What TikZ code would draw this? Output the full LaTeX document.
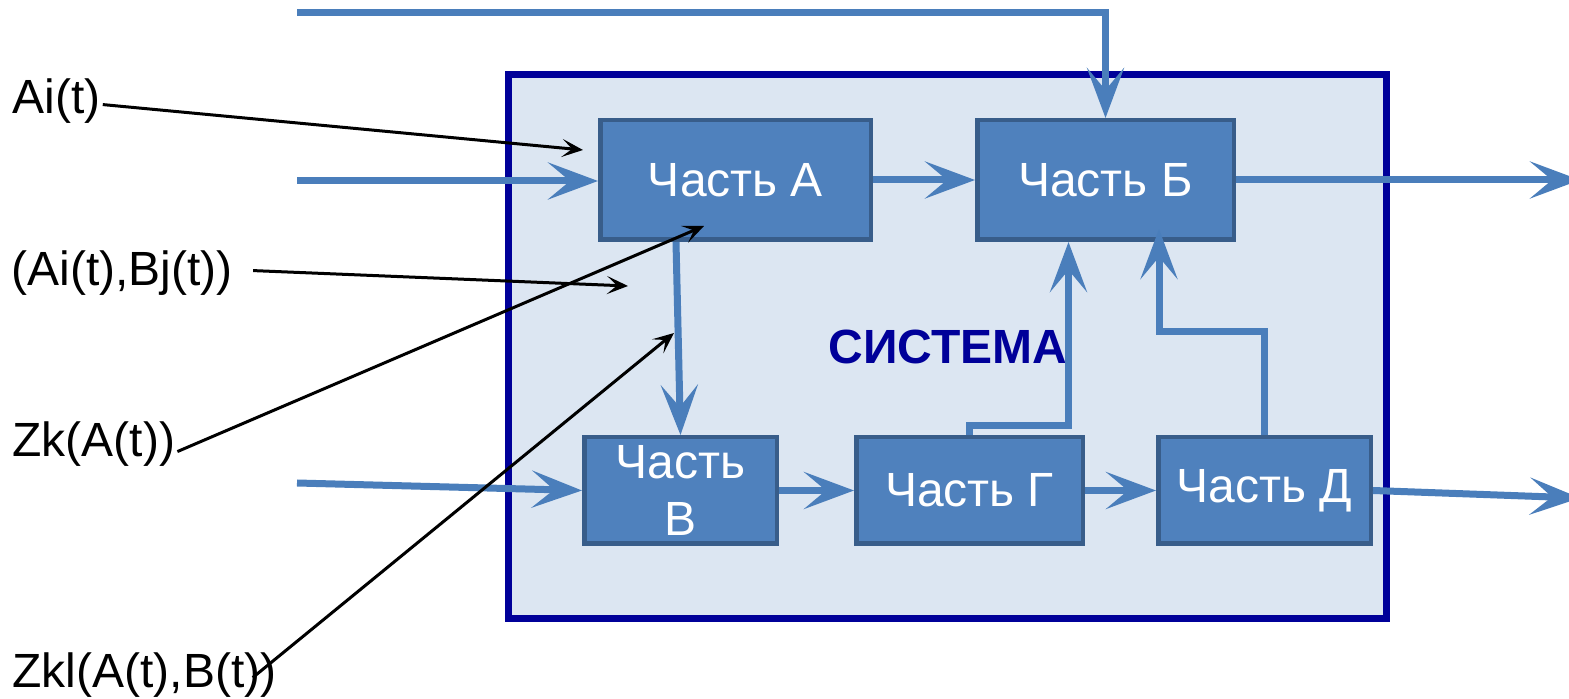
\documentclass[tikz,border=0pt]{standalone}
\usepackage{fontspec}
\setmainfont{Liberation Sans}
\usetikzlibrary{arrows.meta,calc}
\definecolor{partfill}{HTML}{4F81BD}
\definecolor{partline}{HTML}{385D8A}
\definecolor{sysfill}{HTML}{DCE6F2}
\definecolor{sysline}{HTML}{000099}
\definecolor{flowblue}{HTML}{4A7EBB}
\begin{document}
\begin{tikzpicture}[x=0.5pt,y=-0.5pt,
  bigfont/.style={font=\fontsize{24}{28.5}\selectfont},
  part/.style={draw=partline, fill=partfill, line width=2.25pt, text=white,
    inner sep=0pt, bigfont, align=center},
  sysbox/.style={draw=sysline, fill=sysfill, line width=3.5pt},
  flow/.style={draw=flowblue, line width=3.5pt,
    -{Stealth[length=25pt,width=18.5pt,inset=11pt]}},
  sig/.style={draw=black, line width=1.5pt,
    -{Stealth[length=10.5pt,width=9pt,inset=5pt]}},
  lbl/.style={inner sep=0pt, anchor=base west, bigfont}]
\useasboundingbox (0,0) rectangle (1569,699);
\clip (0,0) rectangle (1569,699);

% system frame
\draw[sysbox] (508,75) rectangle (1386,619);
\node[inner sep=0pt, anchor=base west, text=sysline,
  font=\fontsize{24}{28.5}\selectfont\bfseries] (syslbl) at (828,364) {СИСТЕМА};

% parts of the system
\node[part, minimum width=135.25pt, minimum height=59.75pt] (A) at (735.5,180) {Часть А};
\node[part, minimum width=128.25pt, minimum height=59.75pt] (B) at (1105.5,180) {Часть Б};
\node[part, minimum width=96.25pt,  minimum height=53.25pt] (V) at (680.5,490.5) {Часть\\В};
\node[part, minimum width=113.25pt, minimum height=53.25pt] (G) at (969.5,490.5) {Часть Г};
\node[part, minimum width=106.25pt, minimum height=53.25pt] (D) at (1264.5,490.5) {Часть Д};

% external labels
\node[lbl] (ai)   at (12,114) {Ai(t)};
\node[lbl] (aibj) at (11,286) {(Ai(t),Bj(t))};
\node[lbl] (zk)   at (12,457) {Zk(A(t))};
\node[lbl] (zkl)  at (12,688) {Zkl(A(t),B(t))};

% free ends of the flows
\coordinate (inTop) at (297,13);
\coordinate (inA)   at (297,181);
\coordinate (inV)   at (297,483);
\coordinate (outB)  at (1580,180);
\coordinate (outD)  at (1580,498);
\coordinate (gB)    at (1068.5,425.5);
\coordinate (dB)    at (1159,332);

% flows
\draw[flow] (inTop) -| (B.north);
\draw[flow] (inA) -- (inA -| A.west);
\draw[flow] (A) -- (B);
\draw[flow] (B.east) -- (outB);
\draw[flow] ($(A.south)+(-59.5,0)$) -- (V.north);
\draw[flow] (inV) -- (V.west);
\draw[flow] (V) -- (G);
\draw[flow] (G) -- (D);
\draw[flow] (D.east) -- (outD);
\draw[flow] (G.north) |- (gB) -- (gB |- B.south);
\draw[flow] (D.north) |- (dB) -- ($(dB |- B.south)+(0,-13)$);

% signal pointers
\coordinate (t1) at (583,150);
\coordinate (t2) at (628,286);
\coordinate (t3) at (704,226);
\coordinate (t4) at (674,333);
\draw[sig] ($(ai.east)+(2,3)$) -- (t1);
\draw[sig] ($(aibj.east)+(20,-3)$) -- (t2);
\draw[sig] ($(zk.east)+(2,7)$) -- (t3);
\draw[sig] ($(zkl.east)+(-24,2)$) -- (t4);
\end{tikzpicture}
\end{document}
